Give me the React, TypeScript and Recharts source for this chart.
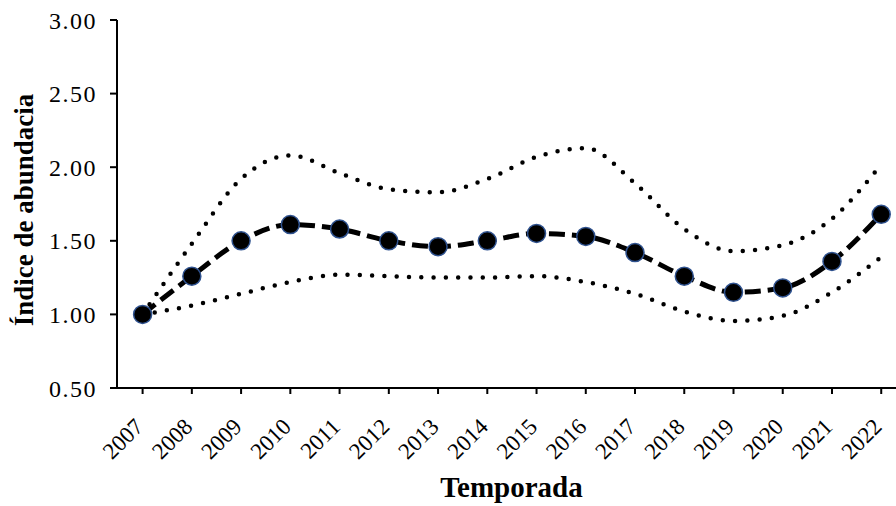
import { LineChart, Line, XAxis, YAxis, Label } from 'recharts';

const years = [2007, 2008, 2009, 2010, 2011, 2012, 2013, 2014, 2015, 2016, 2017, 2018, 2019, 2020, 2021, 2022];
const indexValues = [1.0, 1.26, 1.5, 1.61, 1.58, 1.5, 1.46, 1.5, 1.55, 1.53, 1.42, 1.26, 1.15, 1.18, 1.36, 1.68];
const upperValues = [1.0, 1.48, 1.92, 2.08, 1.96, 1.85, 1.83, 1.92, 2.07, 2.13, 1.89, 1.58, 1.43, 1.47, 1.65, 2.02];
const lowerValues = [1.0, 1.06, 1.14, 1.22, 1.27, 1.26, 1.25, 1.25, 1.26, 1.22, 1.14, 1.02, 0.955, 0.99, 1.15, 1.39];
const yTicks = [0.5, 1.0, 1.5, 2.0, 2.5, 3.0];

const data = years.map((year, i) => ({
  year,
  index: indexValues[i],
  upper: upperValues[i],
  lower: lowerValues[i],
}));

const serif = '"Liberation Serif", "Times New Roman", serif';

// rotated year labels, like the Excel original
const YearTick = ({ x, y, payload }: any) => {
  const tx = x + 2;
  const ty = y + 32;
  return (
    <text
      x={tx}
      y={ty}
      textAnchor="end"
      transform={`rotate(-45, ${tx}, ${ty})`}
      fontFamily={serif}
      fontSize={23}
      fill="#000"
    >
      {payload.value}
    </text>
  );
};

const YTitle = ({ viewBox }: any) => {
  const cx = viewBox.x + 33;
  const cy = viewBox.y + viewBox.height / 2 + 6;
  return (
    <text
      x={cx}
      y={cy}
      textAnchor="middle"
      transform={`rotate(-90, ${cx}, ${cy})`}
      fontFamily={serif}
      fontSize={27}
      fontWeight="bold"
      fill="#000"
    >
      Índice de abundacia
    </text>
  );
};

const MarkerDot = (props: any) => {
  const { cx, cy, index } = props;
  if (cx == null || cy == null) return null;
  return <circle key={`dot-${index}`} cx={cx} cy={cy} r={9} fill="#000" stroke="#2F528F" strokeWidth={1.5} />;
};

export default function App() {
  return (
    <div style={{ position: 'absolute', left: 0, top: 0, width: 896, height: 506, background: '#fff' }}>
      <LineChart width={896} height={506} data={data} margin={{ top: 20, right: 0, bottom: 0, left: 0 }}>
        <XAxis
          dataKey="year"
          type="number"
          domain={[2006.48, 2022.3]}
          ticks={years}
          interval={0}
          allowDataOverflow
          height={118}
          stroke="#000"
          strokeWidth={2}
          tickSize={6}
          tick={<YearTick />}
        >
          <Label
            value="Temporada"
            position="insideBottom"
            offset={9}
            dx={5}
            style={{ fontFamily: serif, fontSize: 29, fontWeight: 'bold', fill: '#000' }}
          />
        </XAxis>
        <YAxis
          type="number"
          domain={[0.5, 3]}
          ticks={yTicks}
          width={117}
          stroke="#000"
          strokeWidth={2}
          tickSize={7}
          tickMargin={13}
          tickFormatter={(v: number) => v.toFixed(2)}
          tick={{ fill: '#000', fontFamily: serif, fontSize: 24, letterSpacing: 1.5 }}
        >
          <Label content={<YTitle />} />
        </YAxis>
        <Line
          type="monotone"
          dataKey="upper"
          stroke="#000"
          strokeWidth={4.5}
          strokeDasharray="0 12.3"
          strokeLinecap="round"
          dot={false}
          activeDot={false}
          isAnimationActive={false}
        />
        <Line
          type="monotone"
          dataKey="lower"
          stroke="#000"
          strokeWidth={4.5}
          strokeDasharray="0 12.3"
          strokeLinecap="round"
          dot={false}
          activeDot={false}
          isAnimationActive={false}
        />
        <Line
          type="monotone"
          dataKey="index"
          stroke="#000"
          strokeWidth={5}
          strokeDasharray="16 7"
          dot={<MarkerDot />}
          activeDot={false}
          isAnimationActive={false}
        />
      </LineChart>
    </div>
  );
}
